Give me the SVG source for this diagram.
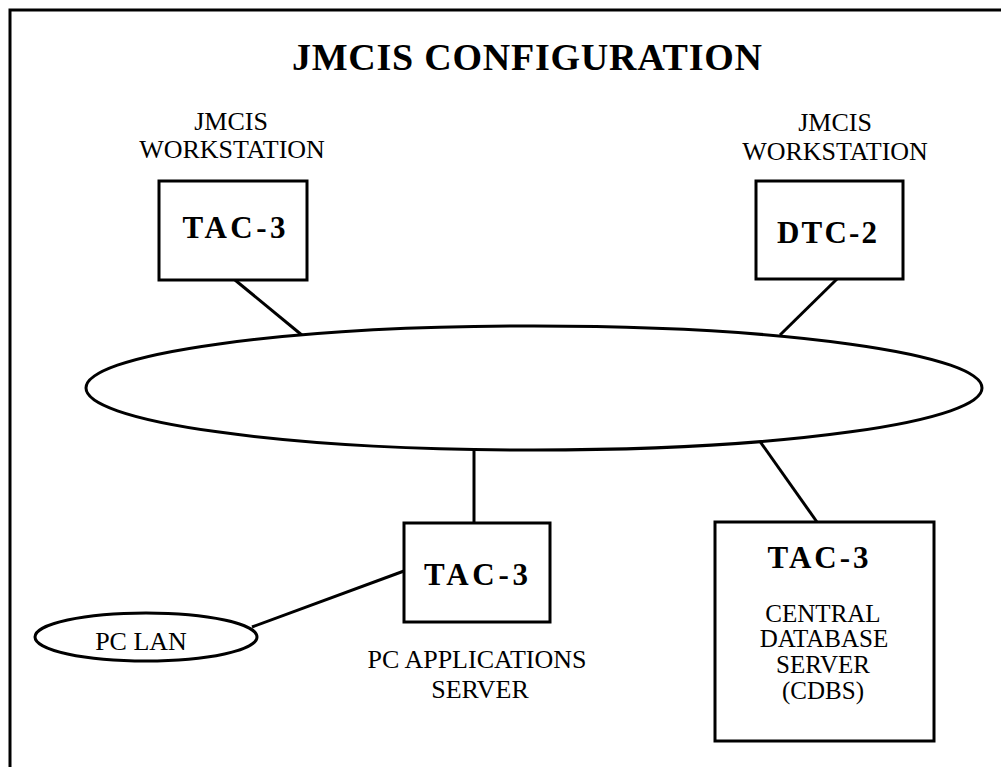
<svg xmlns="http://www.w3.org/2000/svg" width="1001" height="767" viewBox="0 0 1001 767">
<style>
  .frame { fill: none; stroke: #000; stroke-width: 3; }
  .box { fill: #fff; stroke: #000; stroke-width: 3; }
  .conn { stroke: #000; stroke-width: 3; fill: none; }
  .title { font-family: "Liberation Serif", "Times New Roman", serif; font-weight: bold; font-size: 38px; fill: #000; }
  .id { font-family: "Liberation Serif", "Times New Roman", serif; font-weight: bold; font-size: 31px; fill: #000; }
  .lbl { font-family: "Liberation Serif", "Times New Roman", serif; font-size: 26px; fill: #000; }
  .cdbs { font-family: "Liberation Serif", "Times New Roman", serif; font-size: 25px; fill: #000; }
</style>
<rect x="0" y="0" width="1001" height="767" fill="#fff"/>
<rect class="frame" x="10" y="10" width="1100" height="900"/>
<text class="title" x="527" y="70" text-anchor="middle" textLength="470" lengthAdjust="spacing">JMCIS CONFIGURATION</text>

<g id="connectors">
  <line class="conn" x1="235" y1="280" x2="303" y2="336"/>
  <line class="conn" x1="837" y1="279" x2="780" y2="335"/>
  <line class="conn" x1="474" y1="450" x2="474" y2="523"/>
  <line class="conn" x1="759" y1="440" x2="817" y2="522"/>
  <line class="conn" x1="404" y1="571" x2="252" y2="627"/>
</g>

<g id="network">
  <ellipse class="box" cx="534" cy="388" rx="448" ry="62"/>
</g>

<g id="ws-left">
  <text class="lbl" x="231" y="130" text-anchor="middle">JMCIS</text>
  <text class="lbl" x="232" y="158" text-anchor="middle">WORKSTATION</text>
  <rect class="box" x="159" y="181" width="148" height="99"/>
  <text class="id" x="234" y="238" text-anchor="middle" textLength="103" lengthAdjust="spacing">TAC-3</text>
</g>

<g id="ws-right">
  <text class="lbl" x="835" y="131" text-anchor="middle">JMCIS</text>
  <text class="lbl" x="835" y="160" text-anchor="middle">WORKSTATION</text>
  <rect class="box" x="756" y="181" width="147" height="98"/>
  <text class="id" x="827" y="243" text-anchor="middle" textLength="100" lengthAdjust="spacing">DTC-2</text>
</g>

<g id="pc-app-server">
  <rect class="box" x="404" y="523" width="146" height="99"/>
  <text class="id" x="476" y="585" text-anchor="middle" textLength="104" lengthAdjust="spacing">TAC-3</text>
  <text class="lbl" x="477" y="668" text-anchor="middle">PC APPLICATIONS</text>
  <text class="lbl" x="480" y="698" text-anchor="middle">SERVER</text>
</g>

<g id="pc-lan">
  <ellipse class="box" cx="146" cy="637" rx="111" ry="24"/>
  <text class="lbl" x="141" y="650" text-anchor="middle" font-size="28">PC LAN</text>
</g>

<g id="cdbs">
  <rect class="box" x="715" y="522" width="219" height="219"/>
  <text class="id" x="818" y="568" text-anchor="middle" textLength="101" lengthAdjust="spacing">TAC-3</text>
  <text class="cdbs" x="823" y="622" text-anchor="middle">CENTRAL</text>
  <text class="cdbs" x="824" y="647" text-anchor="middle">DATABASE</text>
  <text class="cdbs" x="823" y="673" text-anchor="middle">SERVER</text>
  <text class="cdbs" x="823" y="699" text-anchor="middle">(CDBS)</text>
</g>
</svg>
